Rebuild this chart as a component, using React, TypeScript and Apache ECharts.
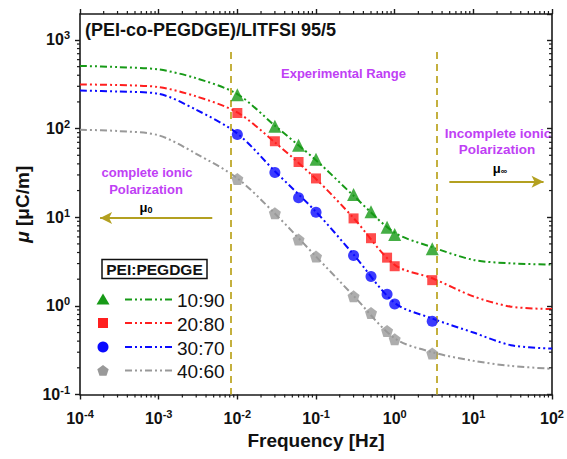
import React, { useEffect, useRef } from 'react';
import * as echarts from 'echarts';

// ---------- data ----------
const seriesNames = ['10:90', '20:80', '30:70', '40:60'];
const seriesColors = ['#179a17', '#ff1f1f', '#0a0aff', '#999999'];

// measured points (frequency in Hz, mu in uC/m)
const measFreq = [0.01, 0.03, 0.06, 0.1, 0.3, 0.5, 0.8, 1, 3];
const mu1090 = [241, 106, 65, 45, 18, 11.5, 7.7, 6.4, 4.4];
const mu2080 = [150, 72, 42, 27.4, 9.7, 5.8, 3.5, 2.8, 1.95];
const mu3070 = [86, 32, 16.6, 11.4, 3.7, 2.15, 1.35, 1.05, 0.67];
const mu4060 = [27, 11.1, 5.6, 3.6, 1.28, 0.83, 0.52, 0.42, 0.29];

// fitted curves
const fitFreq = [1e-4, 3e-4, 1e-3, 3e-3, 1e-2, 3e-2, 1e-1, 3e-1, 1, 3, 10, 30, 100];
const fit1090 = [510, 495, 465, 370, 245, 108, 44, 17.5, 6.7, 4.6, 3.3, 3.02, 2.92];
const fit2080 = [315, 310, 294, 231, 152, 70, 27, 9.8, 2.9, 2.05, 1.28, 0.98, 0.92];
const fit3070 = [269, 262, 247, 163, 88, 33, 11.5, 3.8, 1.08, 0.72, 0.5, 0.36, 0.33];
const fit4060 = [97, 94, 84, 52, 27.5, 11, 3.6, 1.3, 0.43, 0.3, 0.24, 0.21, 0.195];

const measSets = [mu1090, mu2080, mu3070, mu4060];
const fitSets = [fit1090, fit2080, fit3070, fit4060];

// axis extents (decades)
const xExpMin = -4;
const xExpMax = 2;
const yExpMin = -1;
const yExpMax = 3.293;

// boundaries of the experimental range (Hz)
const boundaryFreq = [0.0082, 3.45];
const boundaryTop = 733;

// arrows (Hz, mu)
const leftArrow = { from: [0.0048, 9.8], to: [1.8e-4, 9.8] };
const rightArrow = { from: [4.95, 25.2], to: [78, 25.2] };

const titleText = '(PEI-co-PEGDGE)/LITFSI 95/5';
const legendTitle = 'PEI:PEGDGE';

// ---------- styling ----------
const FONT = '"Liberation Sans", Arial, Helvetica, sans-serif';
const AXIS_COLOR = '#1a1a1a';
const PURPLE = '#bf40f5';
const OLIVE_LINE = '#c4b03e';
const OLIVE_ARROW = '#b3a020';
const DASH = [7, 3, 2, 3, 2, 3];
const PENTAGON = 'path://M0,-1 L0.951,-0.309 L0.588,0.809 L-0.588,0.809 L-0.951,-0.309 Z';
const symbols = ['triangle', 'rect', 'circle', PENTAGON];
const symbolSizes = [13, 10, 11, 12];

const lg = Math.log10;

function minorValues(from: number, to: number, max: number) {
  const out: number[] = [];
  for (let n = from; n < to; n++) {
    for (let k = 2; k <= 9; k++) {
      const v = lg(k * Math.pow(10, n));
      if (v < max) out.push(v);
    }
  }
  return out;
}

export default function App() {
  const ref = useRef<HTMLDivElement>(null);

  useEffect(() => {
    if (!ref.current) return;
    const chart = echarts.init(ref.current, undefined, { renderer: 'svg' });

    const labelRich = {
      b: { fontSize: 16, fontWeight: 'bold', fontFamily: FONT, color: '#111', lineHeight: 20 },
      s: { fontSize: 11, fontWeight: 'bold', fontFamily: FONT, color: '#111', verticalAlign: 'top', lineHeight: 11 },
    };
    const fmt = (v: number) => `{b|10}{s|${Math.round(v)}}`;

    const minorX = minorValues(xExpMin, xExpMax, xExpMax);
    const minorY = minorValues(yExpMin, 4, yExpMax);
    const minorData = [
      ...minorX.map((v) => [0, v]),
      ...minorY.map((v) => [1, v]),
    ];

    const series: any[] = [];
    fitSets.forEach((fit, i) => {
      series.push({
        type: 'line',
        name: seriesNames[i] + ' fit',
        data: fitFreq.map((f, j) => [lg(f), lg(fit[j])]),
        smooth: 0.3,
        showSymbol: false,
        symbol: 'none',
        lineStyle: { color: seriesColors[i], width: 2, type: DASH },
        z: 3,
        silent: true,
      });
    });
    measSets.forEach((m, i) => {
      series.push({
        type: 'scatter',
        name: seriesNames[i],
        data: measFreq.map((f, j) => [lg(f), lg(m[j])]),
        symbol: symbols[i],
        symbolSize: symbolSizes[i],
        itemStyle: { color: seriesColors[i] },
        z: 5,
        silent: true,
      });
    });
    // boundaries and arrows
    series.push({
      type: 'line',
      name: 'annotations',
      data: [],
      silent: true,
      markLine: {
        silent: true,
        animation: false,
        label: { show: false },
        data: [
          ...boundaryFreq.map((f) => [
            { coord: [lg(f), lg(boundaryTop)], symbol: 'none' },
            { coord: [lg(f), yExpMin], symbol: 'none' },
          ]),
          [
            { coord: [lg(leftArrow.from[0]), lg(leftArrow.from[1])], symbol: 'none' },
            { coord: [lg(leftArrow.to[0]), lg(leftArrow.to[1])], symbol: 'arrow', symbolSize: [9, 12], lineStyle: { color: OLIVE_ARROW, type: 'solid', width: 2 } },
          ],
          [
            { coord: [lg(rightArrow.from[0]), lg(rightArrow.from[1])], symbol: 'none' },
            { coord: [lg(rightArrow.to[0]), lg(rightArrow.to[1])], symbol: 'arrow', symbolSize: [9, 12], lineStyle: { color: OLIVE_ARROW, type: 'solid', width: 2 } },
          ],
        ],
        lineStyle: { color: OLIVE_LINE, type: [7, 5], width: 2 },
      },
    });
    // minor ticks on all four sides
    series.push({
      type: 'custom',
      name: 'minorTicks',
      data: minorData,
      clip: false,
      silent: true,
      z: 10,
      renderItem: (params: any, api: any) => {
        const kind = api.value(0);
        const v = api.value(1);
        const cs = params.coordSys;
        const st = { stroke: AXIS_COLOR, lineWidth: 1.2 };
        if (kind === 0) {
          const x = api.coord([v, yExpMin])[0];
          return {
            type: 'group',
            children: [
              { type: 'line', shape: { x1: x, y1: cs.y + cs.height, x2: x, y2: cs.y + cs.height + 3 }, style: st },
              { type: 'line', shape: { x1: x, y1: cs.y, x2: x, y2: cs.y - 3 }, style: st },
            ],
          };
        }
        const y = api.coord([xExpMin, v])[1];
        return {
          type: 'group',
          children: [
            { type: 'line', shape: { x1: cs.x, y1: y, x2: cs.x - 3, y2: y }, style: st },
            { type: 'line', shape: { x1: cs.x + cs.width, y1: y, x2: cs.x + cs.width - 3, y2: y }, style: st },
          ],
        };
      },
    });

    // legend drawn with graphic elements
    const rowY = [299.5, 323, 347, 370.5];
    const symX = 103;
    const legendChildren: any[] = [
      {
        type: 'rect',
        shape: { x: 102, y: 259.5, width: 105, height: 19 },
        style: { fill: 'none', stroke: '#111', lineWidth: 1.5 },
      },
      {
        type: 'text',
        x: 154.5,
        y: 269.5,
        style: { text: legendTitle, font: `bold 15.5px ${FONT}`, fill: '#111', align: 'center', verticalAlign: 'middle' },
      },
    ];
    const markerShapes = [
      (y: number) => ({ type: 'polygon', shape: { points: [[symX, y - 6], [symX - 6.5, y + 5], [symX + 6.5, y + 5]] }, style: { fill: seriesColors[0] } }),
      (y: number) => ({ type: 'rect', shape: { x: symX - 5, y: y - 5, width: 10, height: 10 }, style: { fill: seriesColors[1] } }),
      (y: number) => ({ type: 'circle', shape: { cx: symX, cy: y, r: 5.5 }, style: { fill: seriesColors[2] } }),
      (y: number) => ({
        type: 'polygon',
        shape: {
          points: [0, 1, 2, 3, 4].map((k) => {
            const a = -Math.PI / 2 + (k * 2 * Math.PI) / 5;
            return [symX + 6 * Math.cos(a), y + 6 * Math.sin(a) + 0.5];
          }),
        },
        style: { fill: seriesColors[3] },
      }),
    ];
    seriesNames.forEach((name, i) => {
      const y = rowY[i];
      legendChildren.push(markerShapes[i](y));
      legendChildren.push({
        type: 'line',
        shape: { x1: 125, y1: y, x2: 172, y2: y },
        style: { stroke: seriesColors[i], lineWidth: 2, lineDash: DASH },
      });
      legendChildren.push({
        type: 'text',
        x: 177,
        y: y + 1,
        style: { text: name, font: `19px ${FONT}`, fill: '#111', align: 'left', verticalAlign: 'middle' },
      });
    });

    const purpleText = (text: string, x: number, y: number, size = 13) => ({
      type: 'text',
      x,
      y,
      style: { text, font: `bold ${size}px ${FONT}`, fill: PURPLE, align: 'center', verticalAlign: 'middle' },
    });
    const muText = (sub: string, x: number, y: number) => ({
      type: 'text',
      x,
      y,
      style: {
        text: `{m|μ}{s|${sub}}`,
        align: 'center',
        verticalAlign: 'middle',
        rich: {
          m: { fontFamily: FONT, fontWeight: 'bold', fontSize: 13, color: PURPLE, lineHeight: 15 },
          s: { fontFamily: FONT, fontWeight: 'bold', fontSize: 9, color: PURPLE, verticalAlign: 'bottom', lineHeight: 11 },
        },
      },
    });

    const option: any = {
      animation: false,
      backgroundColor: '#ffffff',
      grid: { left: 80, right: 12, top: 14, bottom: 64.5, containLabel: false },
      xAxis: [
        {
          type: 'value',
          min: xExpMin,
          max: xExpMax,
          interval: 1,
          position: 'bottom',
          name: 'Frequency [Hz]',
          nameLocation: 'middle',
          nameGap: 36,
          nameTextStyle: { fontFamily: FONT, fontWeight: 'bold', fontSize: 19, color: '#111' },
          axisLine: { onZero: false, lineStyle: { color: AXIS_COLOR, width: 1.6 } },
          axisTick: { show: true, inside: false, length: 5, lineStyle: { color: AXIS_COLOR, width: 1.4 } },
          axisLabel: { formatter: fmt, rich: labelRich, margin: 14 },
          splitLine: { show: false },
        },
        {
          type: 'value',
          min: xExpMin,
          max: xExpMax,
          interval: 1,
          position: 'top',
          axisLine: { onZero: false, lineStyle: { color: AXIS_COLOR, width: 1.6 } },
          axisTick: { show: true, inside: false, length: 5, lineStyle: { color: AXIS_COLOR, width: 1.4 } },
          axisLabel: { show: false },
          splitLine: { show: false },
        },
      ],
      yAxis: [
        {
          type: 'value',
          min: yExpMin,
          max: yExpMax,
          interval: 1,
          position: 'left',
          name: '{i|μ}{n| [μC/m]}',
          nameLocation: 'middle',
          nameGap: 47,
          nameRotate: 90,
          nameTextStyle: {
            rich: {
              i: { fontFamily: FONT, fontWeight: 'bold', fontStyle: 'italic', fontSize: 19, color: '#111' },
              n: { fontFamily: FONT, fontWeight: 'bold', fontSize: 19, color: '#111' },
            },
          },
          axisLine: { onZero: false, lineStyle: { color: AXIS_COLOR, width: 1.6 } },
          axisTick: { show: true, inside: false, length: 5, lineStyle: { color: AXIS_COLOR, width: 1.4 } },
          axisLabel: { formatter: fmt, rich: labelRich, margin: 10, showMaxLabel: false },
          splitLine: { show: false },
        },
        {
          type: 'value',
          min: yExpMin,
          max: yExpMax,
          interval: 1,
          position: 'right',
          axisLine: { onZero: false, lineStyle: { color: AXIS_COLOR, width: 1.6 } },
          axisTick: { show: true, inside: true, length: 5, lineStyle: { color: AXIS_COLOR, width: 1.4 } },
          axisLabel: { show: false },
          splitLine: { show: false },
        },
      ],
      series,
      graphic: [
        {
          type: 'text',
          x: 85,
          y: 30,
          style: { text: titleText, font: `bold 18px ${FONT}`, fill: '#111', align: 'left', verticalAlign: 'middle' },
        },
        purpleText('Experimental Range', 343.5, 73),
        purpleText('complete ionic', 147, 172),
        purpleText('Polarization', 146, 189),
        muText('0', 146, 207),
        purpleText('Incomplete ionic', 498, 133, 13.5),
        purpleText('Polarization', 497, 149.5, 13.5),
        muText('∞', 500, 168),
        { type: 'group', children: legendChildren },
      ],
    };

    chart.setOption(option);
    return () => chart.dispose();
  }, []);

  return (
    <div
      ref={ref}
      style={{ position: 'fixed', left: 0, top: 0, width: 567, height: 459, background: '#fff' }}
    />
  );
}
